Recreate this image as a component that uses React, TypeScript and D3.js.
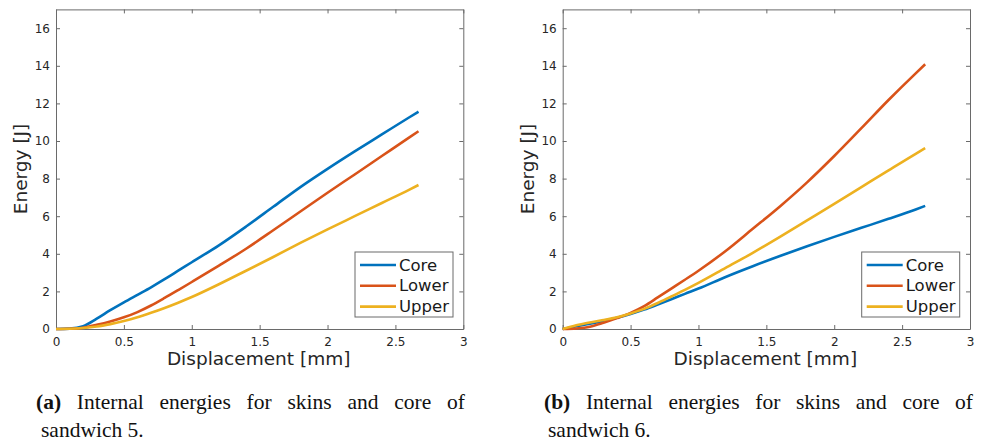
import React, { useEffect, useRef } from 'react';
import * as d3 from 'd3';

// displacement [mm] sampled along both curves
const displacement = [0, 0.1, 0.2, 0.3, 0.4, 0.5, 0.6, 0.7, 0.8, 0.9, 1.0, 1.2, 1.4, 1.6, 1.8, 2.0, 2.2, 2.4, 2.6, 2.67];

// sandwich 5
const core5 = [0, 0.02, 0.15, 0.55, 1.0, 1.42, 1.82, 2.22, 2.65, 3.1, 3.55, 4.45, 5.45, 6.5, 7.55, 8.52, 9.45, 10.35, 11.25, 11.56];
const lower5 = [0, 0.01, 0.07, 0.22, 0.4, 0.62, 0.9, 1.25, 1.65, 2.07, 2.5, 3.37, 4.27, 5.25, 6.25, 7.25, 8.22, 9.2, 10.18, 10.52];
const upper5 = [0, 0.01, 0.05, 0.13, 0.26, 0.42, 0.62, 0.86, 1.12, 1.4, 1.7, 2.38, 3.1, 3.83, 4.58, 5.3, 6.0, 6.7, 7.4, 7.66];

// sandwich 6
const core6 = [0, 0.15, 0.28, 0.43, 0.6, 0.8, 1.03, 1.3, 1.58, 1.87, 2.15, 2.77, 3.34, 3.88, 4.4, 4.9, 5.38, 5.86, 6.36, 6.55];
const lower6 = [0, 0.03, 0.12, 0.33, 0.58, 0.86, 1.22, 1.68, 2.15, 2.62, 3.1, 4.15, 5.33, 6.52, 7.8, 9.2, 10.68, 12.18, 13.6, 14.08];
const upper6 = [0, 0.2, 0.35, 0.48, 0.63, 0.83, 1.07, 1.38, 1.73, 2.08, 2.45, 3.25, 4.05, 4.9, 5.78, 6.66, 7.55, 8.44, 9.32, 9.62];

const seriesNames = ['Core', 'Lower', 'Upper'];
const seriesColors = ['#0072BD', '#D95319', '#EDB120'];
const xTicks = [0, 0.5, 1, 1.5, 2, 2.5, 3];
const yTicks = [0, 2, 4, 6, 8, 10, 12, 14, 16];

const captionA = ['(a)', 'Internal', 'energies', 'for', 'skins', 'and', 'core', 'of'];
const captionA2 = 'sandwich 5.';
const captionB = ['(b)', 'Internal', 'energies', 'for', 'skins', 'and', 'core', 'of'];
const captionB2 = 'sandwich 6.';

const panels = [
  { left: 56, series: [core5, lower5, upper5], caption: captionA, caption2: captionA2, capX0: 36, capX1: 465, cap2X: 41 },
  { left: 562.7, series: [core6, lower6, upper6], caption: captionB, caption2: captionB2, capX0: 544, capX1: 973, cap2X: 548 },
];

const plotW = 407.3;
const plotTop = 9.4;
const plotBottom = 329;
const axisColor = '#6a6a6a';
const sans = 'DejaVu Sans, sans-serif';
const serif = 'Liberation Serif, serif';

function drawPanel(svg: any, p: any) {
  const x = d3.scaleLinear().domain([0, 3]).range([p.left, p.left + plotW]);
  const y = d3.scaleLinear().domain([0, 17]).range([plotBottom, plotTop]);
  const fmt = d3.format('~g');

  const styleAxis = (g: any) => {
    g.attr('font-family', sans).attr('font-size', 12);
    g.select('.domain').attr('stroke', axisColor);
    g.selectAll('.tick line').attr('stroke', axisColor);
    g.selectAll('.tick text').attr('fill', '#262626');
  };

  svg.append('g')
    .attr('transform', 'translate(0,' + plotBottom + ')')
    .call(d3.axisBottom(x).tickValues(xTicks).tickSizeInner(-4).tickSizeOuter(0).tickPadding(8).tickFormat((d: any) => fmt(d)))
    .call(styleAxis);
  svg.append('g')
    .attr('transform', 'translate(0,' + plotTop + ')')
    .call(d3.axisTop(x).tickValues(xTicks).tickSizeInner(-4).tickSizeOuter(0).tickFormat(() => ''))
    .call(styleAxis);
  svg.append('g')
    .attr('transform', 'translate(' + p.left + ',0)')
    .call(d3.axisLeft(y).tickValues(yTicks).tickSizeInner(-4).tickSizeOuter(0).tickPadding(6))
    .call(styleAxis);
  svg.append('g')
    .attr('transform', 'translate(' + (p.left + plotW) + ',0)')
    .call(d3.axisRight(y).tickValues(yTicks).tickSizeInner(-4).tickSizeOuter(0).tickFormat(() => ''))
    .call(styleAxis);

  const line = d3.line<number>()
    .x((d, i) => x(displacement[i]))
    .y(d => y(d))
    .curve(d3.curveMonotoneX);

  p.series.forEach((s: number[], i: number) => {
    svg.append('path')
      .attr('d', line(s))
      .attr('fill', 'none')
      .attr('stroke', seriesColors[i])
      .attr('stroke-width', 2.6)
      .attr('stroke-linejoin', 'round');
  });

  // axis labels
  svg.append('text')
    .attr('x', p.left + plotW / 2 - 1)
    .attr('y', 365)
    .attr('text-anchor', 'middle')
    .attr('font-family', sans)
    .attr('font-size', 18.5)
    .attr('fill', '#262626')
    .text('Displacement [mm]');
  svg.append('text')
    .attr('transform', 'translate(' + (p.left - 29) + ',' + 169 + ') rotate(-90)')
    .attr('text-anchor', 'middle')
    .attr('font-family', sans)
    .attr('font-size', 18.5)
    .attr('fill', '#262626')
    .text('Energy [J]');

  // legend
  const lx = p.left + plotW - 10.3 - 98;
  const leg = svg.append('g');
  leg.append('rect')
    .attr('x', lx).attr('y', 252).attr('width', 98).attr('height', 65)
    .attr('fill', '#fff').attr('stroke', axisColor).attr('stroke-width', 1);
  seriesNames.forEach((name, i) => {
    const ry = 265 + i * 20.8;
    leg.append('line')
      .attr('x1', lx + 5).attr('x2', lx + 41).attr('y1', ry).attr('y2', ry)
      .attr('stroke', seriesColors[i]).attr('stroke-width', 2.6);
    leg.append('text')
      .attr('x', lx + 44).attr('y', ry)
      .attr('dominant-baseline', 'central')
      .attr('font-family', sans).attr('font-size', 16.5).attr('fill', '#1a1a1a')
      .text(name);
  });

  // caption, first line justified
  const words = p.caption.map((w: string, i: number) =>
    svg.append('text')
      .attr('y', 409)
      .attr('font-family', serif)
      .attr('font-size', 21.5)
      .attr('font-weight', i === 0 ? 'bold' : 'normal')
      .attr('fill', '#111')
      .text(w));
  const widths = words.map((t: any) => t.node().getComputedTextLength());
  const total = d3.sum(widths);
  const gap = (p.capX1 - p.capX0 - total) / (words.length - 1);
  let cx = p.capX0;
  words.forEach((t: any, i: number) => {
    t.attr('x', cx);
    cx += widths[i] + gap;
  });
  svg.append('text')
    .attr('x', p.cap2X)
    .attr('y', 437)
    .attr('font-family', serif)
    .attr('font-size', 21.5)
    .attr('fill', '#111')
    .text(p.caption2);
}

export default function App() {
  const ref = useRef<SVGSVGElement>(null);

  useEffect(() => {
    const svg = d3.select(ref.current);
    svg.selectAll('*').remove();
    panels.forEach(p => drawPanel(svg, p));
  }, []);

  return (
    <svg
      ref={ref}
      width={984}
      height={448}
      style={{ position: 'absolute', left: 0, top: 0, background: '#fff' }}
    />
  );
}
